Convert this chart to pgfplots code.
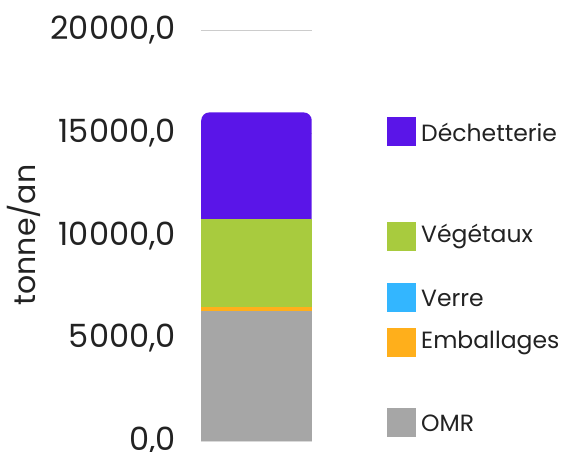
\documentclass[border=0pt]{standalone}
\usepackage{fontspec}
\setmainfont{Poppins}
\usepackage{pgfplots}
\pgfplotsset{compat=1.18}

\definecolor{dechet}{HTML}{5A15E8}
\definecolor{vege}{HTML}{A8CB3E}
\definecolor{verre}{HTML}{33B6FF}
\definecolor{emball}{HTML}{FFAF1B}
\definecolor{omr}{HTML}{A6A6A6}
\definecolor{txt}{HTML}{222222}

\begin{document}
\begin{tikzpicture}
\useasboundingbox (0pt,0pt) rectangle (563pt,452pt);

% cumulative tops of each segment (tonne/an), drawn from the top down
% OMR 6345 + Emballages 166 + Verre 0 + Végétaux 4285 + Déchetterie 5204
\begin{axis}[
    at={(201pt,11pt)}, anchor=south west,
    scale only axis, width=111pt, height=410.7pt,
    xmin=-0.5, xmax=0.5, ymin=0, ymax=20000,
    xtick=\empty,
    ytick={0,5000,10000,15000,20000},
    scaled y ticks=false,
    axis y line*=left,
    y axis line style={draw=none},
    axis x line*=bottom,
    x axis line style={draw=black!15, -},
    major tick length=0pt,
    ymajorgrids, grid style={draw=black!20, line width=0.8pt},
    yticklabel style={anchor=east, inner sep=0pt, xshift=-25pt,
        font=\fontsize{32}{36}\selectfont, text=txt},
    /pgf/number format/.cd, fixed, fixed zerofill, precision=1,
        use comma, 1000 sep={}, assume math mode=true,
    /pgfplots/.cd,
    ybar, bar width=110.5pt, bar shift=0pt,
    clip=false,
]
\addplot[fill=dechet, draw=none, rounded corners=8pt] coordinates {(0,16000)};
\addplot[fill=vege, draw=none] coordinates {(0,10796)};
\addplot[fill=verre, draw=none] coordinates {(0,6511)};
\addplot[fill=emball, draw=none] coordinates {(0,6511)};
\addplot[fill=omr, draw=none] coordinates {(0,6345)};
\end{axis}

\node[rotate=90, text=txt, font=\fontsize{30}{34}\selectfont] at (24pt,217pt) {tonne/an};

\foreach \c/\y/\t in {dechet/320/Déchetterie, vege/215.3/Végétaux, verre/154/Verre, emball/109/Emballages, omr/29/OMR}{
    \fill[\c] (387pt,\y pt-14.5pt) rectangle (416pt,\y pt+14.5pt);
    \node[anchor=west, inner sep=0pt, text=txt, font=\fontsize{23.5}{27}\selectfont] at (421pt,\y pt) {\t};
}
\end{tikzpicture}
\end{document}
